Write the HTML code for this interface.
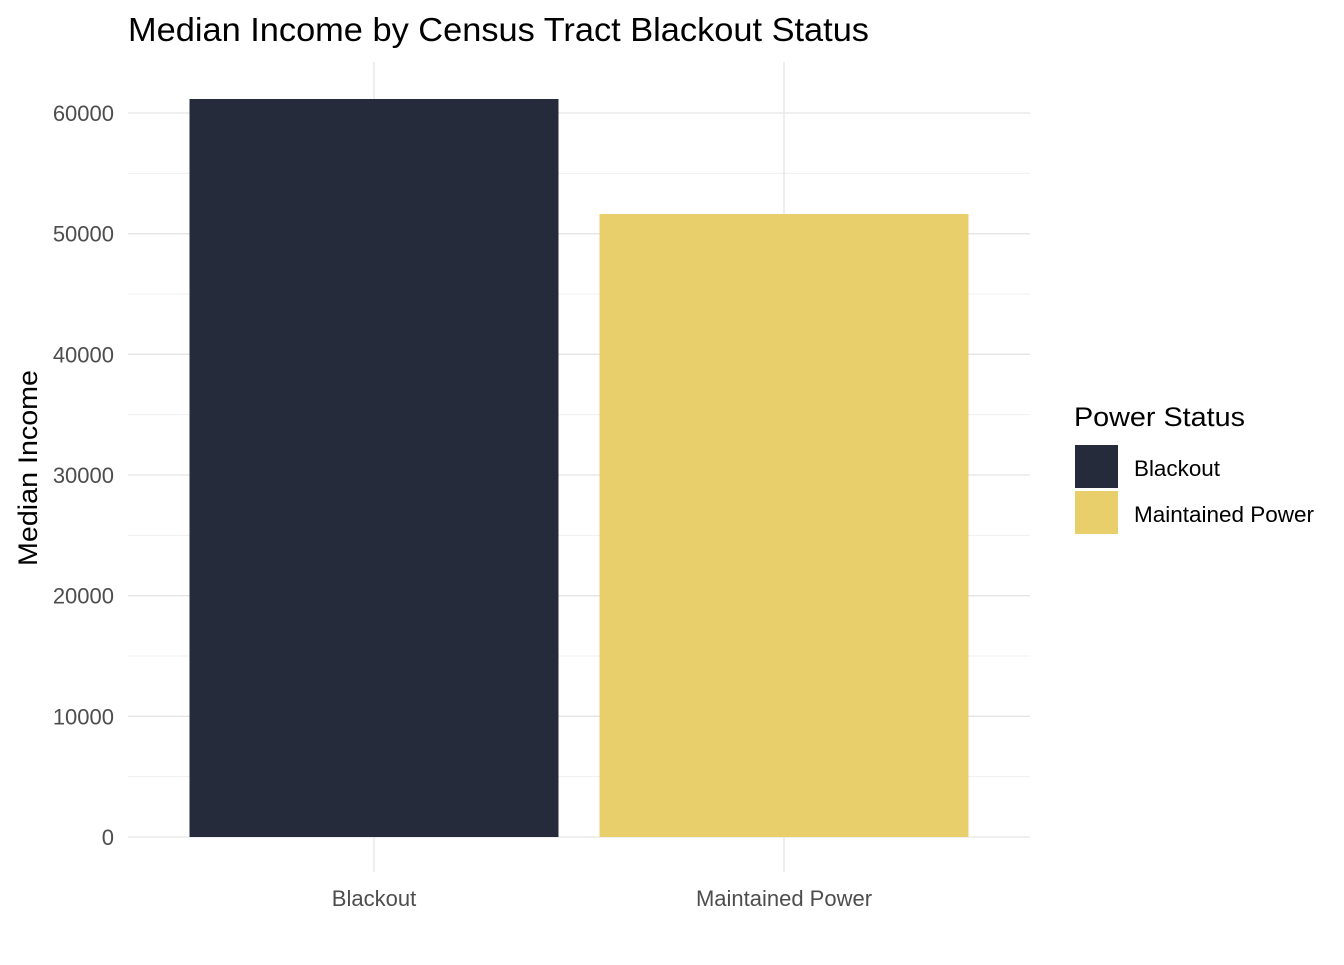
<!DOCTYPE html>
<html><head><meta charset="utf-8"><style>
body{margin:0;background:#fff;}
svg text{font-family:"Liberation Sans",Arial,sans-serif;}
</style></head><body>
<svg id="chart" width="1344" height="960">
<text x="128" y="41" font-size="33" fill="#000" textLength="741" lengthAdjust="spacingAndGlyphs">Median Income by Census Tract Blackout Status</text>
<g id="grid"></g>
<g id="bars"></g>
<g id="axes"></g>
<text transform="translate(37,468) rotate(-90)" text-anchor="middle" font-size="27" fill="#000" textLength="196" lengthAdjust="spacingAndGlyphs">Median Income</text>
<g>
<text x="1074" y="426" font-size="27" fill="#000" textLength="171" lengthAdjust="spacingAndGlyphs">Power Status</text>
<rect x="1075" y="445" width="43" height="43" fill="#252b3a"/>
<text x="1134" y="476" font-size="22" fill="#000" textLength="86" lengthAdjust="spacingAndGlyphs">Blackout</text>
<rect x="1075" y="491" width="43" height="43" fill="#e8cf6c"/>
<text x="1134" y="522" font-size="22" fill="#000" textLength="180" lengthAdjust="spacingAndGlyphs">Maintained Power</text>
</g>
</svg>
<script>
const categories=["Blackout","Maintained Power"];
const values=[61160,51630];
const colors=["#252b3a","#e8cf6c"];
const yTicks=[0,10000,20000,30000,40000,50000,60000];
const ns="http://www.w3.org/2000/svg";
const L=128,R=1030,T=62,B=872;
function y(v){return 837-v*(724/60000);}
function x(i){return 374+i*410;}
const bw=369;
function mk(tag,attrs,parent){const e=document.createElementNS(ns,tag);for(const k in attrs)e.setAttribute(k,attrs[k]);parent.appendChild(e);return e;}
const grid=document.getElementById('grid'),bars=document.getElementById('bars'),axes=document.getElementById('axes');
for(let i=0;i<yTicks.length;i++){
  const v=yTicks[i];
  const g=mk('line',{x1:L,x2:R,y1:y(v),y2:y(v),stroke:'#e5e5e5','stroke-width':1.3},grid);
  
  
  if(i<yTicks.length-1){
    const mv=v+5000;
    const m=mk('line',{x1:L,x2:R,y1:y(mv),y2:y(mv),stroke:'#f0f0f0','stroke-width':1},grid);
    
    
  }
  const t=mk('text',{x:114,y:y(v)+8,'text-anchor':'end','font-size':22,fill:'#4d4d4d'},axes);
  t.textContent=v;
  
  
}
categories.forEach((c,i)=>{
  const g=mk('line',{x1:x(i),x2:x(i),y1:T,y2:B,stroke:'#e5e5e5','stroke-width':1.3},grid);
  
  
  const r=mk('rect',{x:x(i)-bw/2,y:y(values[i]),width:bw,height:y(0)-y(values[i]),fill:colors[i]},bars);
  
  
  const t=mk('text',{x:x(i),y:906,'text-anchor':'middle','font-size':22,fill:'#4d4d4d'},axes);
  t.textContent=c;
  
  
});
</script>
</body></html>
